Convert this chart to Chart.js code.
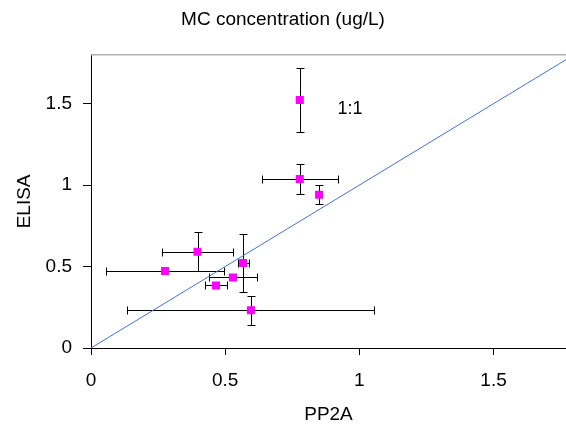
<!DOCTYPE html>
<html>
<head>
<meta charset="utf-8">
<script src="https://cdn.jsdelivr.net/npm/chart.js@4/dist/chart.umd.min.js"></script>
<style>
html, body { margin: 0; padding: 0; background: #fff; }
#wrap { width: 566px; height: 426px; }
</style>
</head>
<body>
<div id="wrap"><canvas id="chart" width="566" height="426"></canvas></div>
<script>
// values
const pp2a    = [0.778, 0.778, 0.850, 0.397, 0.276, 0.567, 0.529, 0.466, 0.596];
const pp2aErr = [0,     0.141, 0,     0.132, 0.220, 0.021, 0.091, 0.040, 0.460];
const elisa    = [1.522, 1.038, 0.941, 0.591, 0.473, 0.522, 0.433, 0.384, 0.232];
const elisaErr = [0.197, 0.090, 0.057, 0.119, 0,     0.180, 0,     0,     0.088];
const xTicks = [0, 0.5, 1, 1.5];
const yTicks = [0, 0.5, 1, 1.5];
const oneToOne = [0, 1.77];

const FONT = 'Liberation Sans, Arial, sans-serif';

const points = pp2a.map((x, i) => ({ x: x, y: elisa[i] }));

// snap to pixel centre so 1px lines stay crisp
const crisp = v => Math.round(v) + 0.5;

// error bars with caps, drawn under the markers
const errorBars = {
  id: 'errorBars',
  beforeDatasetsDraw(chart) {
    const ctx = chart.ctx;
    const xs = chart.scales.x, ys = chart.scales.y;
    const cap = 4;
    ctx.save();
    ctx.strokeStyle = '#000';
    ctx.lineWidth = 1;
    pp2a.forEach((x, i) => {
      const px = crisp(xs.getPixelForValue(x)), py = crisp(ys.getPixelForValue(elisa[i]));
      if (pp2aErr[i] > 0) {
        const x1 = crisp(xs.getPixelForValue(x - pp2aErr[i]));
        const x2 = crisp(xs.getPixelForValue(x + pp2aErr[i]));
        ctx.beginPath();
        ctx.moveTo(x1, py); ctx.lineTo(x2, py);
        ctx.moveTo(x1, py - cap); ctx.lineTo(x1, py + cap);
        ctx.moveTo(x2, py - cap); ctx.lineTo(x2, py + cap);
        ctx.stroke();
      }
      if (elisaErr[i] > 0) {
        const y1 = crisp(ys.getPixelForValue(elisa[i] - elisaErr[i]));
        const y2 = crisp(ys.getPixelForValue(elisa[i] + elisaErr[i]));
        ctx.beginPath();
        ctx.moveTo(px, y1); ctx.lineTo(px, y2);
        ctx.moveTo(px - cap, y1); ctx.lineTo(px + cap, y1);
        ctx.moveTo(px - cap, y2); ctx.lineTo(px + cap, y2);
        ctx.stroke();
      }
    });
    ctx.restore();
  },
  afterDraw(chart) {
    const ctx = chart.ctx;
    const a = chart.chartArea;
    ctx.save();
    // light top frame line
    ctx.strokeStyle = '#b0b0b0';
    ctx.lineWidth = 1.5;
    ctx.beginPath();
    ctx.moveTo(a.left, a.top); ctx.lineTo(a.right, a.top);
    ctx.stroke();
    // 1:1 label
    ctx.fillStyle = '#000';
    ctx.font = '18px ' + FONT;
    ctx.textAlign = 'center';
    ctx.textBaseline = 'middle';
    ctx.fillText('1:1', chart.scales.x.getPixelForValue(0.965), chart.scales.y.getPixelForValue(1.465));
    ctx.restore();
  }
};

new Chart(document.getElementById('chart'), {
  type: 'scatter',
  data: {
    datasets: [{
      data: points,
      pointStyle: 'rect',
      pointRadius: 5.7,
      pointBackgroundColor: '#ff00ff',
      pointBorderWidth: 0,
      order: 1
    }, {
      type: 'line',
      data: oneToOne.map(v => ({ x: v, y: v })),
      borderColor: '#4070f0',
      borderWidth: 1,
      pointRadius: 0,
      fill: false,
      order: 2
    }]
  },
  plugins: [errorBars],
  options: {
    responsive: false,
    animation: false,
    layout: { padding: 0, autoPadding: false },
    plugins: {
      legend: { display: false },
      tooltip: { enabled: false },
      title: {
        display: true,
        text: 'MC concentration (ug/L)',
        color: '#000',
        font: { family: FONT, size: 19, weight: 'normal' },
        padding: { top: 8.5, bottom: 23.5 }
      }
    },
    scales: {
      x: {
        type: 'linear',
        min: 0,
        max: 1.77,
        afterBuildTicks: s => { s.ticks = xTicks.map(v => ({ value: v })); },
        afterFit: s => { s.height = 78; },
        grid: { drawOnChartArea: false, drawTicks: true, tickLength: 7, color: '#000' },
        border: { display: true, color: '#000', width: 1 },
        ticks: { color: '#000', padding: 14, maxRotation: 0, font: { family: FONT, size: 19 },
                 callback: v => String(v) },
        title: { display: true, text: 'PP2A', color: '#000', padding: { top: 6, bottom: 0 },
                 font: { family: FONT, size: 19 } }
      },
      y: {
        type: 'linear',
        min: 0,
        max: 1.8,
        afterBuildTicks: s => { s.ticks = yTicks.map(v => ({ value: v })); },
        afterFit: s => { s.width = 91; },
        grid: { drawOnChartArea: false, drawTicks: true, tickLength: 8, color: '#000' },
        border: { display: true, color: '#000', width: 1 },
        ticks: { color: '#000', padding: 11, font: { family: FONT, size: 19 },
                 callback: v => String(v) },
        title: { display: true, text: 'ELISA', color: '#000', padding: { top: 13, bottom: 0 },
                 font: { family: FONT, size: 19 } }
      }
    }
  }
});
</script>
</body>
</html>
